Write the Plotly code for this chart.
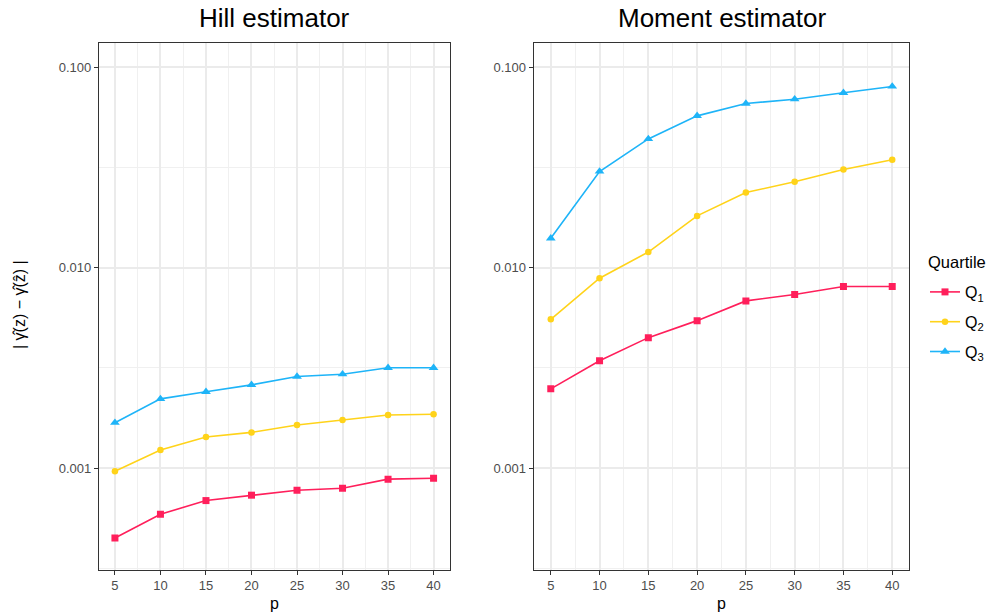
import plotly.graph_objects as go

p_values = [5, 10, 15, 20, 25, 30, 35, 40]

hill_q1 = [0.000448, 0.000589, 0.000689, 0.000733, 0.000776, 0.000794, 0.000881, 0.000891]
hill_q2 = [0.000966, 0.001231, 0.001429, 0.001507, 0.001641, 0.001738, 0.001842, 0.001855]
hill_q3 = [0.001685, 0.002215, 0.002402, 0.002602, 0.002864, 0.002940, 0.003166, 0.003166]

moment_q1 = [0.002485, 0.003431, 0.004474, 0.005440, 0.006823, 0.007342, 0.008050, 0.008050]
moment_q2 = [0.005525, 0.008857, 0.01196, 0.01811, 0.02368, 0.02679, 0.03087, 0.03451]
moment_q3 = [0.01400, 0.03016, 0.04382, 0.05711, 0.06580, 0.06916, 0.07442, 0.08005]

series_names = ["Q<sub>1</sub>", "Q<sub>2</sub>", "Q<sub>3</sub>"]
colors = ["#FF1F5B", "#FFD31A", "#1EB4F8"]
symbols = ["square", "circle", "triangle-up"]
marker_sizes = [7, 6.5, 8.5]

panel_titles = ["Hill estimator", "Moment estimator"]
y_tickvals = [0.001, 0.01, 0.1]
y_ticktext = ["0.001", "0.010", "0.100"]
y_minor = [10 ** -3.5, 10 ** -2.5, 10 ** -1.5]

W, H = 993, 615
FONT = "Liberation Sans, Arial, sans-serif"

fig = go.Figure()

panels = [(hill_q1, hill_q2, hill_q3), (moment_q1, moment_q2, moment_q3)]
for pi, data in enumerate(panels):
    xa = "x" if pi == 0 else "x2"
    ya = "y" if pi == 0 else "y2"
    for si, vals in enumerate(data):
        fig.add_trace(go.Scatter(
            x=p_values, y=vals, mode="lines+markers",
            name=series_names[si],
            line=dict(color=colors[si], width=1.6),
            marker=dict(symbol=symbols[si], size=marker_sizes[si], color=colors[si], line=dict(width=0)),
            showlegend=(pi == 0), legendgroup=str(si),
            xaxis=xa, yaxis=ya,
        ))

left_dom = [99 / W, 449.5 / W]
right_dom = [533.7 / W, 909.3 / W]
y_dom = [1 - 569.5 / H, 1 - 43.3 / H]
y_range = [-3.5055, -0.8814]

axis_common = dict(
    showline=True, mirror=True, linecolor="#333333", linewidth=1.2,
    ticks="outside", ticklen=4, tickcolor="#333333", tickwidth=1.1,
    tickfont=dict(family=FONT, size=13, color="#4D4D4D"),
    showgrid=True, gridcolor="#EBEBEB", gridwidth=1.5, zeroline=False,
)

xaxis_cfg = dict(axis_common, range=[3.25, 41.75], tickmode="array", tickvals=p_values,
                 minor=dict(tickmode="array", tickvals=[7.5, 12.5, 17.5, 22.5, 27.5, 32.5, 37.5],
                            showgrid=True, gridcolor="#F0F0F0", gridwidth=1.0, ticks=""))
yaxis_cfg = dict(axis_common, type="log", range=y_range, tickmode="array",
                 tickvals=y_tickvals, ticktext=y_ticktext,
                 minor=dict(tickmode="array", tickvals=y_minor,
                            showgrid=True, gridcolor="#F0F0F0", gridwidth=1.0, ticks=""))

fig.update_layout(
    width=W, height=H,
    margin=dict(l=0, r=0, t=0, b=0),
    paper_bgcolor="white", plot_bgcolor="white",
    font=dict(family=FONT, color="black"),
    xaxis=dict(xaxis_cfg, domain=left_dom, anchor="y"),
    yaxis=dict(yaxis_cfg, domain=y_dom, anchor="x"),
    xaxis2=dict(xaxis_cfg, domain=right_dom, anchor="y2"),
    yaxis2=dict(yaxis_cfg, domain=y_dom, anchor="x2"),
    legend=dict(
        font=dict(family=FONT, size=16, color="black"),
        x=925 / W, y=1 - 275 / H, xanchor="left", yanchor="top",
        bgcolor="rgba(0,0,0,0)", tracegroupgap=6, itemwidth=30,
    ),
)

annotations = []
centers = [(left_dom[0] + left_dom[1]) / 2, (right_dom[0] + right_dom[1]) / 2]
for ci, title in enumerate(panel_titles):
    annotations.append(dict(text=title, x=centers[ci], y=1 - 18 / H, xref="paper", yref="paper",
                            xanchor="center", yanchor="middle", showarrow=False,
                            font=dict(family=FONT, size=26, color="black")))
    annotations.append(dict(text="p", x=centers[ci], y=1 - 603 / H, xref="paper", yref="paper",
                            xanchor="center", yanchor="middle", showarrow=False,
                            font=dict(family=FONT, size=16, color="black")))
annotations.append(dict(text="Quartile", x=926 / W, y=1 - 262 / H, xref="paper", yref="paper",
                        xanchor="left", yanchor="middle", showarrow=False,
                        font=dict(family=FONT, size=16.5, color="black")))
annotations.append(dict(text="| \u03b3\u0302(z) \u2212 \u03b3\u0302(\u1e91) |", x=20 / W, y=1 - 305 / H,
                        xref="paper", yref="paper", xanchor="center", yanchor="middle",
                        textangle=-90, showarrow=False,
                        font=dict(family=FONT, size=16, color="black")))
fig.update_layout(annotations=annotations)

fig.write_html("out.html")
